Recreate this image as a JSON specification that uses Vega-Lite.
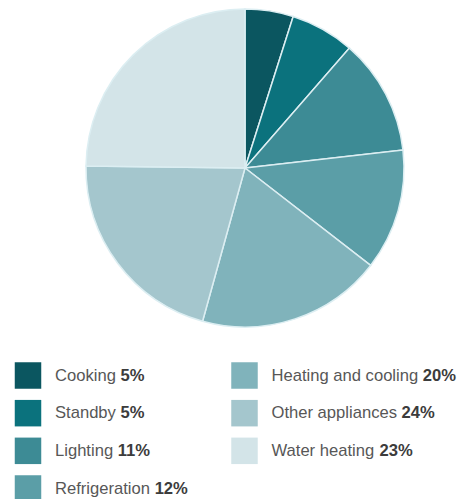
{
  "$schema": "https://vega.github.io/schema/vega-lite/v6.json",
  "background": "white",
  "padding": {"left": 0, "top": 6, "right": 0, "bottom": 0},
  "spacing": 0,
  "config": {"view": {"stroke": null}},
  "datasets": {
    "uses": [
      {"idx": 0, "name": "Cooking", "share": 4.9, "pct": 5},
      {"idx": 1, "name": "Standby", "share": 6.5, "pct": 5},
      {"idx": 2, "name": "Lighting", "share": 11.8, "pct": 11},
      {"idx": 3, "name": "Refrigeration", "share": 12.3, "pct": 12},
      {"idx": 4, "name": "Heating and cooling", "share": 18.8, "pct": 20},
      {"idx": 5, "name": "Other appliances", "share": 20.9, "pct": 24},
      {"idx": 6, "name": "Water heating", "share": 24.8, "pct": 23}
    ]
  },
  "vconcat": [
    {
      "width": 463,
      "height": 320,
      "data": {"name": "uses"},
      "mark": {"type": "arc", "outerRadius": 159, "x": {"expr": "width/2 + 13.5"}, "stroke": "#dceef2", "strokeWidth": 1.5},
      "encoding": {
        "theta": {"field": "share", "type": "quantitative", "stack": true},
        "order": {"field": "idx", "type": "quantitative"},
        "color": {
          "field": "name",
          "type": "nominal",
          "legend": null,
          "scale": {
            "domain": ["Cooking", "Standby", "Lighting", "Refrigeration", "Heating and cooling", "Other appliances", "Water heating"],
            "range": ["#0b5660", "#0b727d", "#3d8b95", "#5b9ea7", "#80b3bb", "#a4c6cd", "#d3e4e8"]
          }
        }
      }
    },
    {
      "width": 463,
      "height": 173,
      "data": {"name": "uses"},
      "transform": [
        {"calculate": "datum.idx < 4 ? 0 : 1", "as": "col"},
        {"calculate": "datum.idx < 4 ? datum.idx : datum.idx - 4", "as": "row"},
        {"calculate": "datum.pct + '%'", "as": "pctLabel"}
      ],
      "encoding": {
        "x": {"field": "col", "type": "quantitative", "axis": null, "scale": {"domain": [0, 1], "range": [28, 244.5]}},
        "y": {"field": "row", "type": "quantitative", "axis": null, "scale": {"domain": [0, 3], "range": [45.5, 158.5]}}
      },
      "layer": [
        {
          "mark": {"type": "square", "size": 702, "opacity": 1},
          "encoding": {
            "color": {"field": "name", "type": "nominal", "legend": null}
          }
        },
        {
          "mark": {"type": "text", "align": "left", "baseline": "middle", "dx": 27, "dy": 0, "font": "Liberation Sans", "fontSize": 16.6, "color": "#575757"},
          "encoding": {"text": {"field": "name"}}
        },
        {
          "mark": {
            "type": "text", "align": "left", "baseline": "middle", "dy": 0, "font": "Liberation Sans", "fontSize": 16.6, "fontWeight": "bold", "color": "#3c3c3c",
            "dx": {"expr": "27 + 16.6*(0.556*length(datum.name) - 0.334*length(replace(datum.name, regexp('[^ijl]','g'), '')) - 0.278*length(replace(datum.name, regexp('[^ft ]','g'), '')) - 0.223*length(replace(datum.name, regexp('[^r]','g'), '')) - 0.056*length(replace(datum.name, regexp('[^cksvyz]','g'), '')) + 0.166*length(replace(datum.name, regexp('[^CRHw]','g'), '')) + 0.111*length(replace(datum.name, regexp('[^S]','g'), '')) + 0.222*length(replace(datum.name, regexp('[^O]','g'), '')) + 0.388*length(replace(datum.name, regexp('[^W]','g'), '')) + 0.278)"}
          },
          "encoding": {"text": {"field": "pctLabel"}}
        }
      ]
    }
  ]
}
